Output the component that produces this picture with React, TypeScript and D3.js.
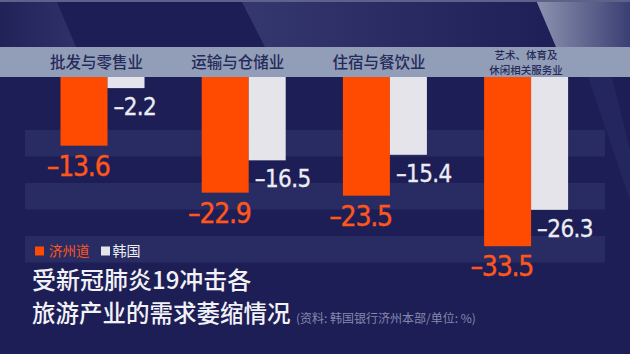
import React from "react";
import * as d3 from "d3";

const categories = ["批发与零售业", "运输与仓储业", "住宿与餐饮业", "艺术、体育及|休闲相关服务业"];
const jejuValues = [-13.6, -22.9, -23.5, -33.5];
const koreaValues = [-2.2, -16.5, -15.4, -26.3];
const seriesNames = ["济州道", "韩国"];
const titleLines = ["受新冠肺炎19冲击各", "旅游产业的需求萎缩情况"];
const sourceNote = "(资料: 韩国银行济州本部/单位: %)";

const W = 630;
const H = 354;
const BG = "#1d1e55";
const STRIPE = "#292b63";
const ORANGE = "#ff4a01";
const ORANGE_TXT = "#ff561a";
const WHITE_BAR = "#e5e4ea";
const WHITE_TXT = "#ecedf3";
const HEADER = "#929eb7";
const HEADER_TXT = "#262a5b";
const CJK = "'Noto Sans CJK SC', 'Noto Sans', sans-serif";
const NUM = "'DejaVu Sans Condensed', 'Liberation Sans Narrow', 'DejaVu Sans', sans-serif";

const bandTop = 47;
const baseY = 77;
const rowH = 26.5;

export default function App() {
  const x = d3
    .scaleBand<string>()
    .domain(categories)
    .range([60.5, 568.1])
    .paddingInner(0.405)
    .paddingOuter(0);
  const y = d3.scaleLinear().domain([0, -33.5]).range([baseY, 246.2]);
  const bw = x.bandwidth();
  const ow = (bw * 47) / 84;
  const ww = (bw * 37) / 84;

  const stripes = [2, 4, 6].map((k) => baseY + k * rowH);

  return (
    <svg
      width={W}
      height={H}
      viewBox={`0 0 ${W} ${H}`}
      style={{ position: "absolute", left: 0, top: 0, display: "block" }}
    >
      <defs>
        <linearGradient id="gl" x1="0" x2="1" y1="0" y2="0">
          <stop offset="0" stopColor="#212258" />
          <stop offset="1" stopColor="#2f3169" />
        </linearGradient>
        <linearGradient id="gm" x1="0" x2="1" y1="0" y2="0">
          <stop offset="0" stopColor="#35376f" />
          <stop offset="1" stopColor="#1e1f56" />
        </linearGradient>
        <linearGradient id="gr" x1="0" x2="1" y1="0" y2="0">
          <stop offset="0" stopColor="#8c94b0" />
          <stop offset="1" stopColor="#3b3e73" />
        </linearGradient>
      </defs>
      <rect x={0} y={0} width={W} height={H} fill={BG} />
      {/* top decoration */}
      <polygon points={`0,0 56,0 76,${bandTop} 0,${bandTop}`} fill="url(#gl)" />
      <polygon points={`241,0 536,0 556,${bandTop} 265,${bandTop}`} fill="url(#gm)" />
      <polygon points={`536,0 ${W},0 ${W},${bandTop} 556,${bandTop}`} fill="url(#gr)" />
      <rect x={0} y={0} width={W} height={2} fill="#5d6288" />
      {/* right diagonal */}
      <polygon points={`588,${baseY} 612,${baseY} ${W},150 ${W},200`} fill="#242660" />
      {/* stripes */}
      {stripes.map((s, i) => (
        <rect key={i} x={25} y={s} width={580} height={rowH} fill={STRIPE} />
      ))}
      {/* header band */}
      <rect x={0} y={bandTop} width={W} height={baseY - bandTop} fill={HEADER} />
      {categories.map((c, i) => {
        const cx = (x(c) as number) + bw / 2 - (i === 3 ? 0 : 6);
        const lines = c.split("|");
        if (lines.length === 1) {
          return (
            <text
              key={c}
              x={cx}
              y={68}
              textAnchor="middle"
              fontFamily={CJK}
              fontSize={15.5}
              fontWeight={500}
              fill={HEADER_TXT}
            >
              {c}
            </text>
          );
        }
        return (
          <text
            key={c}
            textAnchor="middle"
            fontFamily={CJK}
            fontSize={10.5}
            fontWeight={500}
            fill={HEADER_TXT}
          >
            <tspan x={cx} y={58.5}>
              {lines[0]}
            </tspan>
            <tspan x={cx} y={74}>
              {lines[1]}
            </tspan>
          </text>
        );
      })}
      {/* bars */}
      {categories.map((c, i) => {
        const x0 = x(c) as number;
        const yj = y(jejuValues[i]);
        const yk = y(koreaValues[i]);
        return (
          <g key={c}>
            <rect x={x0} y={baseY} width={ow} height={yj - baseY} fill={ORANGE} />
            <rect x={x0 + ow} y={baseY} width={ww} height={yk - baseY} fill={WHITE_BAR} />
            <text
              x={x0 + ow + 2}
              y={yj + 30}
              textAnchor="end"
              fontFamily={NUM}
              fontSize={28}
              letterSpacing={-1.2}
              stroke={ORANGE_TXT}
              strokeWidth={0.4}
              fill={ORANGE_TXT}
            >
              {"–" + Math.abs(jejuValues[i]).toFixed(1)}
            </text>
            <text
              x={x0 + ow + 6}
              y={yk + 27}
              textAnchor="start"
              fontFamily={NUM}
              fontSize={24}
              letterSpacing={-0.6}
              stroke={WHITE_TXT}
              strokeWidth={0.3}
              fill={WHITE_TXT}
            >
              {"–" + Math.abs(koreaValues[i]).toFixed(1)}
            </text>
          </g>
        );
      })}
      {/* legend */}
      <rect x={35} y={246.5} width={9} height={9} fill={ORANGE} />
      <text x={49} y={256} fontFamily={CJK} fontSize={13.5} fill={ORANGE_TXT}>
        {seriesNames[0]}
      </text>
      <rect x={101} y={246.5} width={9} height={9} fill={WHITE_BAR} />
      <text x={112.5} y={256} fontFamily={CJK} fontSize={14} fill={WHITE_TXT}>
        {seriesNames[1]}
      </text>
      {/* title */}
      <text x={32} y={289} fontFamily={CJK} fontSize={24} fontWeight={500} fill="#f2f2f6">
        {titleLines[0]}
      </text>
      <text x={32} y={322} fontFamily={CJK} fontSize={23.5} fontWeight={500} fill="#f2f2f6">
        {titleLines[1]}
      </text>
      <text x={296} y={323} fontFamily={CJK} fontSize={12} fill="#8589ad">
        {sourceNote}
      </text>
    </svg>
  );
}
